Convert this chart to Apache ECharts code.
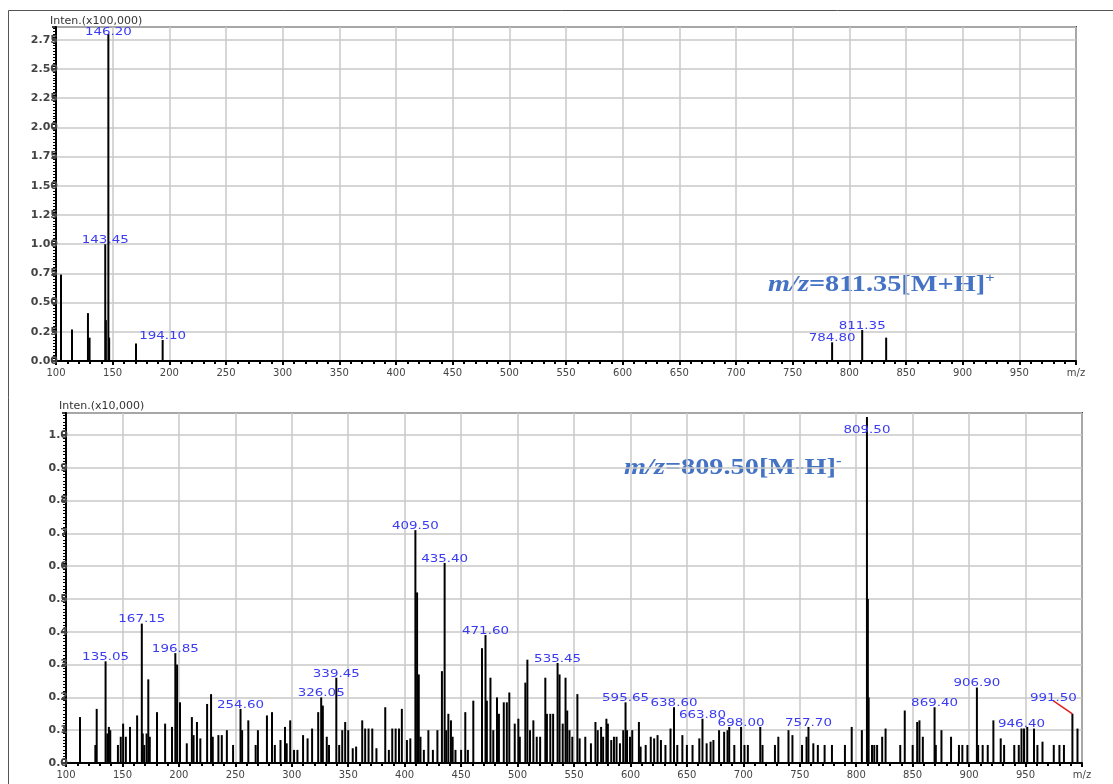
<!DOCTYPE html>
<html>
<head>
<meta charset="utf-8">
<script src="https://cdn.jsdelivr.net/npm/echarts@6/dist/echarts.min.js"></script>
<style>
  html, body { margin: 0; padding: 0; background: #fff; }
  #chart { width: 1113px; height: 784px; }
</style>
</head>
<body>
<div id="chart"></div>
<script>
// positive mode spectrum, [m/z, intensity x100,000]
const posPeaks = [
  [104.4, 0.74], [114.1, 0.27], [128.2, 0.41], [129.6, 0.2],
  [143.45, 1.0], [144.0, 0.35], [146.2, 2.8], [146.9, 0.2],
  [170.6, 0.15], [194.1, 0.18],
  [784.8, 0.16], [811.35, 0.265], [832.5, 0.2]
]
const posLabels = [143.45, 146.20, 194.10, 784.80, 811.35]

// negative mode spectrum, [m/z, intensity x10,000]
const negPeaks = [
  [112.4, 0.14], [126, 0.055], [127.2, 0.165], [135.05, 0.31], [136.6, 0.09], [138, 0.11], [139.2, 0.10],
  [146, 0.055], [148.5, 0.08], [150.6, 0.12], [153, 0.08], [156.7, 0.11], [163, 0.145], [167.15, 0.425],
  [168, 0.09], [169.3, 0.055], [171.4, 0.09], [172.9, 0.255], [174.2, 0.08], [180.6, 0.155], [187.8, 0.12],
  [193.9, 0.11], [196.85, 0.335], [198.4, 0.30], [201, 0.185], [207, 0.06], [211.5, 0.14], [213, 0.085],
  [216, 0.125], [219, 0.075], [225, 0.18], [228.5, 0.21], [230, 0.08], [235, 0.085], [238, 0.085],
  [242.5, 0.1], [248, 0.055], [254.6, 0.165], [256, 0.1], [261.5, 0.13], [268, 0.055], [270, 0.1],
  [278, 0.145], [282.5, 0.155], [285, 0.055], [290, 0.07], [294, 0.11], [295.5, 0.06], [298.6, 0.13],
  [302, 0.04], [305, 0.04], [310, 0.085], [314, 0.075], [318, 0.105], [323.4, 0.155], [326.05, 0.2],
  [327.5, 0.175], [331, 0.08], [333, 0.055], [339.45, 0.26], [342, 0.055], [344.7, 0.1], [347.3, 0.125],
  [350, 0.1], [354, 0.045], [357, 0.05], [362.4, 0.13], [365, 0.105], [368, 0.105], [371.3, 0.105],
  [375, 0.045], [382.8, 0.17], [386, 0.04], [389, 0.105], [392, 0.105], [395, 0.105], [397.5, 0.165],
  [402, 0.07], [405, 0.075], [409.5, 0.71], [411, 0.52], [412.5, 0.27], [414, 0.08], [417, 0.04],
  [421, 0.1], [425, 0.04], [429, 0.1], [433, 0.28], [435.4, 0.61], [436.8, 0.1], [438.7, 0.15],
  [441, 0.13], [442.5, 0.08], [445, 0.04], [450, 0.04], [453.7, 0.155], [456, 0.04], [460.8, 0.19],
  [468.5, 0.35], [471.6, 0.39], [472.8, 0.19], [476, 0.26], [478.5, 0.1], [481.8, 0.2], [483.5, 0.15],
  [487.8, 0.185], [490.5, 0.185], [492.7, 0.215], [497.5, 0.12], [500.7, 0.135], [502, 0.08],
  [506.9, 0.245], [508.7, 0.315], [511, 0.1], [514, 0.13], [517, 0.08], [520, 0.08], [524.6, 0.26],
  [526, 0.15], [529, 0.15], [531.5, 0.15], [535.45, 0.305], [537.2, 0.27], [540, 0.12], [542.5, 0.26],
  [544, 0.16], [546, 0.1], [548.5, 0.08], [553, 0.21], [555, 0.075], [560, 0.08], [565, 0.06],
  [569, 0.125], [571, 0.1], [574, 0.11], [575.8, 0.08], [578.7, 0.135], [580, 0.12], [583, 0.07],
  [585.4, 0.08], [587.7, 0.08], [590.7, 0.06], [593.6, 0.1], [595.65, 0.185], [597, 0.1], [599.6, 0.08],
  [601.6, 0.1], [607.5, 0.125], [609, 0.05], [613.5, 0.055], [618, 0.08], [621, 0.075], [624, 0.085],
  [627, 0.07], [631, 0.055], [635.5, 0.105], [638.6, 0.17], [641.5, 0.055], [646, 0.085], [650, 0.055],
  [655, 0.055], [661, 0.075], [663.8, 0.135], [667.5, 0.06], [671, 0.065], [673.5, 0.07], [678.5, 0.1],
  [683, 0.095], [686, 0.1], [687.5, 0.11], [692, 0.055], [698, 0.11], [701, 0.055], [704, 0.055],
  [715, 0.11], [717, 0.055], [728, 0.055], [731, 0.08], [740, 0.1], [743.5, 0.085], [752, 0.055],
  [756, 0.08], [757.7, 0.11], [762, 0.06], [766, 0.055], [772, 0.055], [778.5, 0.055], [790, 0.055],
  [796, 0.11], [805, 0.1], [809.5, 1.055], [810.3, 0.5], [811, 0.2], [814, 0.055], [816, 0.055],
  [818.5, 0.055], [823, 0.08], [826, 0.105], [839, 0.055], [843, 0.16], [850, 0.055], [854, 0.125],
  [856, 0.13], [859, 0.08], [869.4, 0.17], [870.5, 0.055], [875.5, 0.1], [884, 0.08], [891, 0.055],
  [894, 0.055], [898.5, 0.055], [906.9, 0.23], [908, 0.055], [912, 0.055], [916.5, 0.055], [921.5, 0.13],
  [928, 0.075], [931, 0.055], [940, 0.055], [944, 0.055], [946.4, 0.105], [948.6, 0.105], [951.5, 0.11],
  [957.5, 0.105], [960.5, 0.055], [965, 0.065], [975, 0.055], [980, 0.055], [984, 0.055], [991.5, 0.15],
  [996, 0.105]
]
const negLabels = [135.05, 167.15, 196.85, 254.60, 326.05, 339.45, 409.50, 435.40, 471.60, 535.45,
  595.65, 638.60, 663.80, 698.00, 757.70, 809.50, 869.40, 906.90, 946.40, 991.50]

const xTicks = { min: 100, max: 1000, step: 50 }
const posY = { max: 2.86, step: 0.25 }
const negY = { max: 1.067, step: 0.1 }

const chart = echarts.init(document.getElementById('chart'))

const labelData = (peaks, labels) => labels.map(mz => peaks.find(p => p[0] === mz))

// labels that sit off the peak with a red leader line
const leaderOffset = { '991.50': [-19, -16] }

function barItem(params, api) {
  const p0 = api.coord([api.value(0), 0])
  const p1 = api.coord([api.value(0), api.value(1)])
  return {
    type: 'line',
    shape: { x1: p0[0], y1: p0[1], x2: p1[0], y2: p1[1] },
    style: { stroke: '#000', lineWidth: 2 }
  }
}

function labelItem(topPad) {
  return function (params, api) {
    const mz = api.value(0)
    const txt = mz.toFixed(2)
    const p = api.coord([mz, api.value(1)])
    let lx = p[0]
    let ly = Math.max(p[1] - 4, params.coordSys.y + topPad)
    const children = []
    const off = leaderOffset[txt]
    if (off) {
      lx = p[0] + off[0]
      ly = p[1] + off[1]
      children.push({
        type: 'line',
        shape: { x1: lx, y1: ly + 3, x2: p[0], y2: p[1] },
        style: { stroke: '#e02020', lineWidth: 1.5 }
      })
    }
    children.push({
      type: 'text', x: lx, y: ly, scaleX: 1.22,
      style: {
        text: txt, fill: '#3b3bf2', fontFamily: 'DejaVu Sans', fontSize: 11,
        align: 'center', verticalAlign: 'middle'
      }
    })
    return { type: 'group', children: children }
  }
}

function xAxisOf(idx) {
  return {
    type: 'value', gridIndex: idx, min: xTicks.min, max: xTicks.max, interval: xTicks.step,
    axisLine: { show: true, onZero: false, lineStyle: { color: '#000', width: 2 } },
    axisTick: { show: true, length: 4, lineStyle: { color: '#000', width: 2 } },
    minorTick: { show: true, splitNumber: 5, length: 3, lineStyle: { color: '#000', width: 2 } },
    axisLabel: {
      color: '#444', fontFamily: 'DejaVu Sans', fontSize: 10, margin: 7,
      showMinLabel: true, showMaxLabel: true,
      formatter: v => (v === xTicks.max ? 'm/z' : String(v))
    },
    splitLine: { show: true, lineStyle: { color: '#c8c8c8', width: 1.5 } }
  }
}

function yAxisOf(idx, cfg, digits, minorSplit) {
  return {
    type: 'value', gridIndex: idx, min: 0, max: cfg.max, interval: cfg.step,
    axisLine: { show: true, lineStyle: { color: '#000', width: 2 } },
    axisTick: { show: true, length: 4, lineStyle: { color: '#000', width: 1.5 } },
    minorTick: { show: true, splitNumber: minorSplit, length: 3, lineStyle: { color: '#000', width: 1 } },
    axisLabel: {
      color: '#444', fontFamily: 'DejaVu Sans', fontSize: 11, fontWeight: 'bold', margin: -2,
      showMaxLabel: false,
      formatter: v => v.toFixed(digits)
    },
    splitLine: { show: true, lineStyle: { color: '#c8c8c8', width: 1.5 } }
  }
}

const annoStyle = (main, sup) => ({
  text: '{i|m/z}{b|' + main + '}{s|' + sup + '}',
  verticalAlign: 'middle',
  rich: {
    i: { fontFamily: 'Liberation Serif', fontStyle: 'italic', fontWeight: 'bold', fontSize: 24, fill: '#4472c4', lineHeight: 28 },
    b: { fontFamily: 'Liberation Serif', fontWeight: 'bold', fontSize: 24, fill: '#4472c4', lineHeight: 28 },
    s: { fontFamily: 'Liberation Serif', fontWeight: 'bold', fontSize: 14, fill: '#4472c4', verticalAlign: 'top', lineHeight: 14 }
  }
})

chart.setOption({
  backgroundColor: '#fff',
  animation: false,
  grid: [
    { left: 56, top: 27, right: 37, bottom: 423, show: true, borderColor: '#444', borderWidth: 2 },
    { left: 66, top: 413, right: 31, bottom: 21, show: true, borderColor: '#444', borderWidth: 2 }
  ],
  xAxis: [xAxisOf(0), xAxisOf(1)],
  yAxis: [yAxisOf(0, posY, 2, 10), yAxisOf(1, negY, 1, 10)],
  graphic: [
    { type: 'rect', shape: { x: 8.5, y: 10.5, width: 1200, height: 900 }, style: { fill: 'none', stroke: '#555', lineWidth: 1 }, z: -1 },
    { type: 'text', x: 50, y: 21, style: { text: 'Inten.(x100,000)', fill: '#333', fontFamily: 'DejaVu Sans', fontSize: 11, verticalAlign: 'middle' } },
    { type: 'text', x: 59, y: 406, style: { text: 'Inten.(x10,000)', fill: '#333', fontFamily: 'DejaVu Sans', fontSize: 11, verticalAlign: 'middle' } },
    { type: 'text', x: 768, y: 285, scaleX: 1.18, style: annoStyle('=811.35[M+H]', '+') },
    { type: 'text', x: 624, y: 468, scaleX: 1.18, style: annoStyle('=809.50[M-H]', '-') }
  ],
  series: [
    { type: 'custom', xAxisIndex: 0, yAxisIndex: 0, data: posPeaks, renderItem: barItem },
    { type: 'custom', xAxisIndex: 1, yAxisIndex: 1, data: negPeaks, renderItem: barItem },
    { type: 'custom', xAxisIndex: 0, yAxisIndex: 0, clip: false, z: 5, data: labelData(posPeaks, posLabels), renderItem: labelItem(5) },
    { type: 'custom', xAxisIndex: 1, yAxisIndex: 1, clip: false, z: 5, data: labelData(negPeaks, negLabels), renderItem: labelItem(17) }
  ]
})
</script>
</body>
</html>
